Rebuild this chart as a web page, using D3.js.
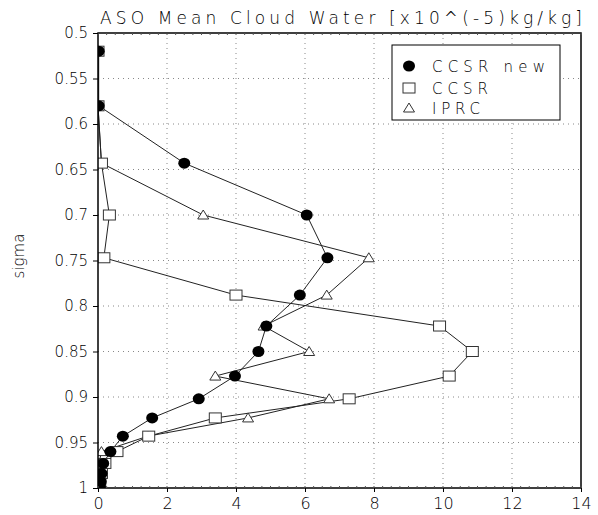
<!DOCTYPE html>
<html><head><meta charset="utf-8">
<script src="https://cdn.jsdelivr.net/npm/d3@7"></script>
<style>body{margin:0;background:#fff}svg{display:block}text{font-family:"DejaVu Sans",sans-serif;font-weight:200;fill:#000}</style>
</head><body><svg id="c" width="598" height="515"></svg>
<script>
const sigma = [0.52, 0.58, 0.643, 0.70, 0.747, 0.788, 0.822, 0.85, 0.877, 0.902, 0.923, 0.943, 0.96, 0.973, 0.984, 0.993, 0.998];
const ccsrNew = [0.02, 0.02, 2.5, 6.05, 6.65, 5.85, 4.88, 4.65, 3.97, 2.92, 1.57, 0.72, 0.36, 0.15, 0.1, 0.08, 0.05];
const ccsr = [0.0, 0.0, 0.1, 0.33, 0.17, 4.0, 9.9, 10.85, 10.18, 7.28, 3.4, 1.47, 0.55, 0.2, 0.1, 0.05, 0.03];
const iprc = [0.0, 0.0, 0.1, 3.05, 7.85, 6.63, 4.8, 6.12, 3.4, 6.7, 4.35, 1.45, 0.1, 0.03, 0.01, 0.0, 0.0];
const seriesNames = ["CCSR new", "CCSR", "IPRC"];
const xTicks = [0, 2, 4, 6, 8, 10, 12, 14];
const yTicks = [0.5, 0.55, 0.6, 0.65, 0.7, 0.75, 0.8, 0.85, 0.9, 0.95, 1];
const title = "ASO Mean Cloud Water [x10^(-5)kg/kg]";
const yLabel = "sigma";

const svg = d3.select("#c");
const L = 98, R = 581, T = 33, B = 488;
const x = d3.scaleLinear().domain([0, 14]).range([L, R]);
const y = d3.scaleLinear().domain([0.5, 1]).range([T, B]);

// grid
const g = svg.append("g");
g.selectAll(".gx").data(xTicks.slice(1, -1)).join("line")
  .attr("x1", d => x(d)).attr("x2", d => x(d)).attr("y1", T).attr("y2", B)
  .attr("stroke", "#888").attr("stroke-width", 1).attr("stroke-dasharray", "1,4");
g.selectAll(".gy").data(yTicks.slice(1, -1)).join("line")
  .attr("y1", d => y(d)).attr("y2", d => y(d)).attr("x1", L).attr("x2", R)
  .attr("stroke", "#888").attr("stroke-width", 1).attr("stroke-dasharray", "1,4");

// clip
svg.append("defs").append("clipPath").attr("id", "clip")
  .append("rect").attr("x", L).attr("y", T).attr("width", R - L).attr("height", B - T);
const plot = svg.append("g").attr("clip-path", "url(#clip)");

const series = [ccsrNew, ccsr, iprc];
const line = d3.line().x(d => x(d[0])).y(d => y(d[1]));
series.forEach(s => {
  const pts = s.map((v, i) => [v, sigma[i]]);
  plot.append("path").datum(pts).attr("d", line).attr("fill", "none")
    .attr("stroke", "#222").attr("stroke-width", 1);
});

function marker(sel, type, cx, cy) {
  if (type === 0) {
    sel.append("ellipse").attr("cx", cx).attr("cy", cy).attr("rx", 6).attr("ry", 5.5).attr("fill", "#000");
  } else if (type === 1) {
    sel.append("rect").attr("x", cx - 6).attr("y", cy - 5).attr("width", 12).attr("height", 10)
      .attr("fill", "#fff").attr("stroke", "#333").attr("stroke-width", 1);
  } else {
    sel.append("path").attr("d", `M${cx - 5.5},${cy + 4}L${cx + 5.5},${cy + 4}L${cx},${cy - 5}Z`)
      .attr("fill", "#fff").attr("stroke", "#333").attr("stroke-width", 1);
  }
}
[2, 1, 0].forEach(k => {
  series[k].forEach((v, i) => marker(plot, k, x(v), y(sigma[i])));
});

// frame
svg.append("rect").attr("x", L).attr("y", T).attr("width", R - L).attr("height", B - T)
  .attr("fill", "none").attr("stroke", "#000").attr("stroke-width", 1.5);
const minor = d3.range(0, 14.001, 0.25);
svg.append("g").selectAll("line").data(minor).join("line")
  .attr("x1", d => x(d)).attr("x2", d => x(d)).attr("y1", T).attr("y2", T + 2).attr("stroke", "#555");
svg.append("g").selectAll("line").data(minor).join("line")
  .attr("x1", d => x(d)).attr("x2", d => x(d)).attr("y1", B).attr("y2", B - 2).attr("stroke", "#555");

// axes
const ax = svg.append("g").attr("transform", `translate(0,${B})`)
  .call(d3.axisBottom(x).tickValues(xTicks).tickSize(4).tickPadding(6).tickFormat(d3.format("d")));
ax.select(".domain").remove();
ax.selectAll("text").attr("font-size", 16).attr("fill", "#000").attr("font-family", "DejaVu Sans").attr("font-weight", 200);
const ay = svg.append("g").attr("transform", `translate(${L},0)`)
  .call(d3.axisLeft(y).tickValues(yTicks).tickSize(5).tickPadding(5).tickFormat(d => String(+d.toFixed(2))));
ay.select(".domain").remove();
ay.selectAll("text").attr("font-size", 15).attr("fill", "#000").attr("font-family", "DejaVu Sans").attr("font-weight", 200);

// title
svg.append("text").attr("x", 100).attr("y", 24).attr("font-size", 17)
  .attr("textLength", 482).attr("lengthAdjust", "spacing").text(title);
// y label
svg.append("text").attr("transform", "translate(24,256) rotate(-90)").attr("text-anchor", "middle")
  .attr("font-size", 15).text(yLabel);

// legend
const lg = svg.append("g");
lg.append("rect").attr("x", 392).attr("y", 45).attr("width", 168).attr("height", 75)
  .attr("fill", "#fff").attr("stroke", "#000").attr("stroke-width", 1);
const lys = [66, 88, 108];
const lw = [113, 56, 48];
seriesNames.forEach((n, k) => {
  marker(lg, k, 409, lys[k]);
  lg.append("text").attr("x", 432).attr("y", lys[k] + 5.5).attr("font-size", 15)
    .attr("textLength", lw[k]).attr("lengthAdjust", "spacing").text(n);
});
</script></body></html>
